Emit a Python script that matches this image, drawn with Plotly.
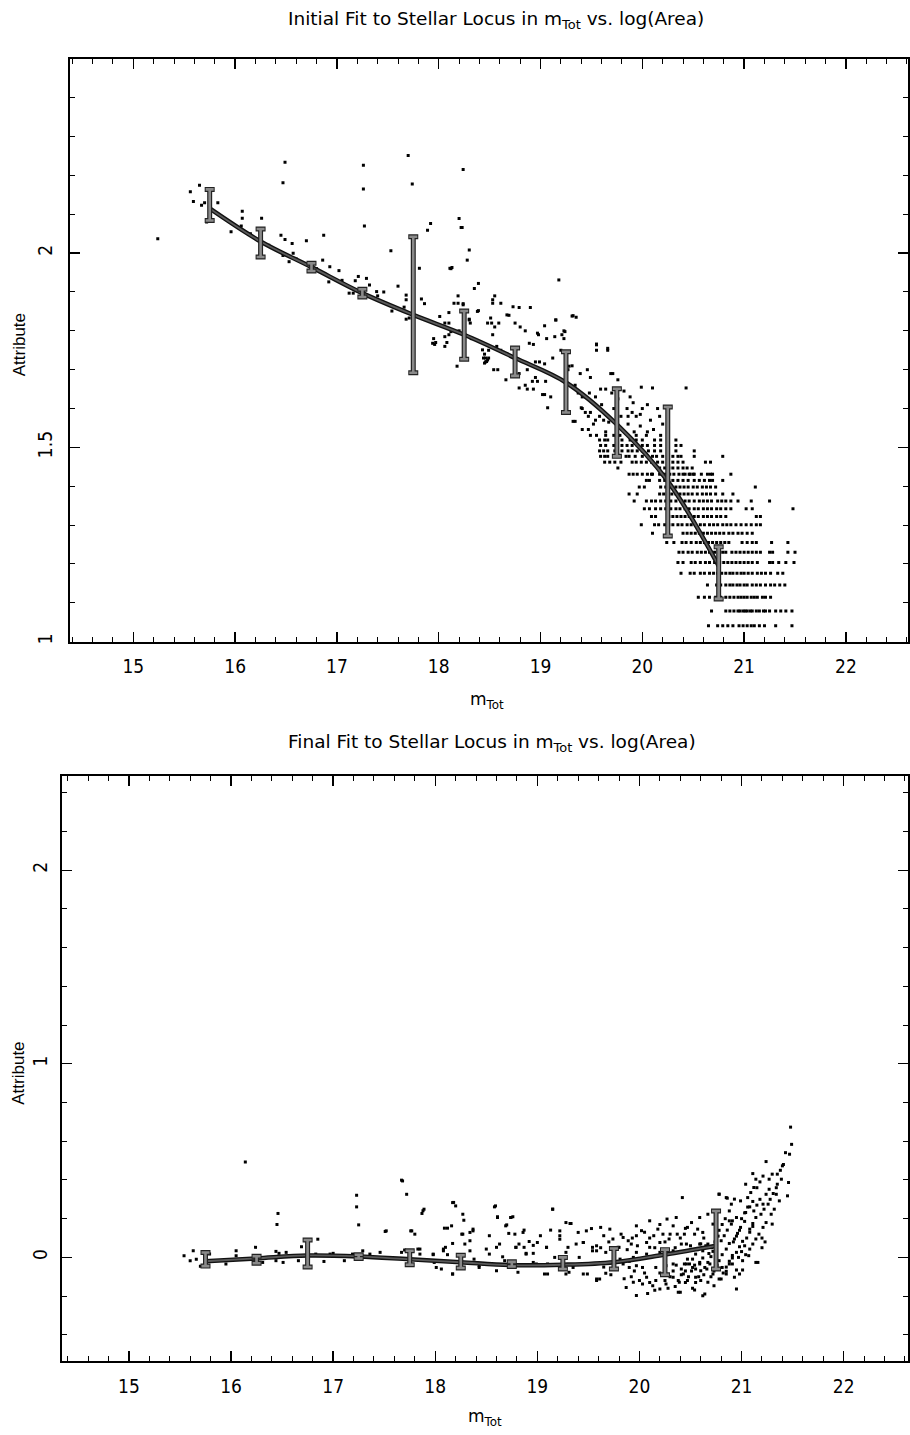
import plotly.graph_objects as go

W, H = 910, 1435
FONT = "Liberation Sans Narrow, DejaVu Sans Condensed, Liberation Sans, Arial, sans-serif"
TFONT = "DejaVu Sans, Liberation Sans, Arial, sans-serif"
LFONT = "Liberation Sans, Arial, sans-serif"

# ---------------- Top panel (initial fit) ----------------
BIN_X = [15.75, 16.25, 16.75, 17.25, 17.75, 18.25, 18.75, 19.25, 19.75, 20.25, 20.75]
TOP_BIN_Y = [2.124, 2.026, 1.964, 1.897, 1.867, 1.789, 1.720, 1.668, 1.564, 1.438, 1.177]
TOP_BIN_ERR = [0.040, 0.036, 0.010, 0.010, 0.175, 0.062, 0.036, 0.078, 0.087, 0.166, 0.067]
TOP_FIT_Y = [2.115, 2.030, 1.964, 1.897, 1.841, 1.790, 1.730, 1.667, 1.559, 1.413, 1.195]

# quantised rows of log(Area) at the faint end
TOP_ROW_Y = [1.041, 1.079, 1.114, 1.146, 1.176, 1.204, 1.230, 1.255, 1.279, 1.301, 1.322, 1.342,
             1.362, 1.380, 1.398, 1.415, 1.431, 1.447, 1.462, 1.477, 1.491, 1.505, 1.519, 1.531]
TOP_ROW_X = [
    [20.65, 20.74, 20.79, 20.84, 20.89, 20.95, 20.99, 21.03, 21.07, 21.10, 21.15, 21.20, 21.31, 21.47],
    [20.68, 20.82, 20.86, 20.90, 20.94, 20.96, 20.99, 21.01, 21.03, 21.06, 21.08, 21.12, 21.15, 21.19,
     21.21, 21.25, 21.31, 21.36, 21.41, 21.47],
    [20.55, 20.61, 20.66, 20.72, 20.77, 20.82, 20.86, 20.90, 20.94, 20.97, 21.00, 21.03, 21.07, 21.10,
     21.13, 21.18, 21.21, 21.26],
    [20.64, 20.73, 20.77, 20.82, 20.86, 20.89, 20.93, 20.96, 21.00, 21.03, 21.08, 21.12, 21.16, 21.21,
     21.26, 21.30, 21.35, 21.40],
    [20.38, 20.47, 20.51, 20.57, 20.61, 20.66, 20.70, 20.74, 20.78, 20.82, 20.86, 20.89, 20.93, 20.97,
     21.00, 21.04, 21.08, 21.13, 21.17, 21.21, 21.26, 21.33, 21.38],
    [20.35, 20.40, 20.48, 20.52, 20.57, 20.62, 20.66, 20.71, 20.76, 20.80, 20.84, 20.88, 20.92, 20.96,
     21.00, 21.04, 21.08, 21.13, 21.25, 21.28, 21.34, 21.41, 21.49],
    [20.36, 20.40, 20.45, 20.49, 20.54, 20.58, 20.62, 20.66, 20.71, 20.75, 20.79, 20.82, 20.88, 20.92,
     20.96, 21.00, 21.04, 21.08, 21.12, 21.16, 21.25, 21.28, 21.43, 21.50],
    [20.24, 20.31, 20.39, 20.43, 20.48, 20.53, 20.57, 20.61, 20.65, 20.69, 20.73, 20.77, 20.81, 20.85,
     20.98, 21.03, 21.08, 21.12, 21.27, 21.43],
    [20.10, 20.40, 20.44, 20.48, 20.52, 20.56, 20.60, 20.64, 20.68, 20.72, 20.76, 20.80, 20.85, 20.89,
     20.94, 20.98, 21.03, 21.08],
    [19.99, 20.12, 20.16, 20.22, 20.26, 20.30, 20.35, 20.39, 20.44, 20.48, 20.52, 20.57, 20.61, 20.66,
     20.70, 20.74, 20.79, 20.83, 20.87, 20.92, 20.97, 21.02, 21.07, 21.12, 21.16],
    [20.09, 20.13, 20.26, 20.30, 20.34, 20.38, 20.42, 20.46, 20.51, 20.55, 20.60, 20.64, 20.68, 20.73,
     20.77, 20.82, 21.12, 21.16],
    [20.02, 20.07, 20.13, 20.18, 20.23, 20.28, 20.33, 20.37, 20.42, 20.46, 20.51, 20.55, 20.60, 20.64,
     20.68, 20.73, 20.77, 20.82, 20.87, 21.02, 21.08, 21.48],
    [19.92, 20.04, 20.09, 20.13, 20.18, 20.23, 20.28, 20.33, 20.38, 20.42, 20.46, 20.51, 20.56, 20.60,
     20.64, 20.68, 20.74, 20.78, 20.82, 20.87, 20.94, 21.07, 21.25],
    [19.87, 19.95, 20.17, 20.21, 20.25, 20.29, 20.33, 20.37, 20.41, 20.45, 20.49, 20.54, 20.59, 20.63,
     20.67, 20.72, 20.79, 20.89],
    [19.97, 20.02, 20.18, 20.23, 20.28, 20.33, 20.37, 20.41, 20.45, 20.50, 20.54, 20.59, 20.63, 20.67,
     20.72, 21.11],
    [20.04, 20.07, 20.17, 20.22, 20.26, 20.30, 20.35, 20.40, 20.45, 20.51, 20.56, 20.61, 20.66, 20.69, 20.79],
    [19.87, 19.91, 19.95, 20.00, 20.05, 20.09, 20.10, 20.17, 20.22, 20.27, 20.31, 20.36, 20.40, 20.42,
     20.46, 20.47, 20.50, 20.51, 20.58, 20.64, 20.67, 20.69, 20.87],
    [19.76, 20.17, 20.22, 20.26, 20.30, 20.35, 20.40, 20.44, 20.49],
    [19.63, 19.68, 19.73, 19.79, 19.90, 19.94, 19.99, 20.04, 20.09, 20.15, 20.20, 20.25, 20.30, 20.35,
     20.40, 20.62, 20.67],
    [19.59, 19.63, 19.66, 19.72, 19.78, 19.84, 19.87, 19.93, 20.00, 20.05, 20.10, 20.14, 20.20, 20.25,
     20.30, 20.35, 20.38, 20.51, 20.79],
    [19.58, 19.62, 19.66, 19.73, 19.80, 19.86, 19.90, 19.95, 20.00, 20.06, 20.12, 20.18, 20.25, 20.33, 20.51],
    [19.59, 19.64, 19.72, 19.80, 19.85, 19.90, 19.95, 20.00, 20.05, 20.12, 20.18, 20.33, 20.38],
    [19.58, 19.63, 19.66, 19.80, 19.88, 19.94, 20.00, 20.12, 20.18, 20.33],
    [19.49, 19.55, 19.64, 19.72, 19.78, 19.94, 20.04, 20.18],
]

TOP_PTS_X = [
    15.24, 15.56, 15.65, 15.59, 15.67, 15.70, 15.83, 15.72, 15.96, 16.07, 16.07, 16.06, 16.26, 16.15, 16.33,
    16.45, 16.49, 16.56, 16.47, 16.53, 16.70, 16.57, 16.87, 16.86, 16.93, 17.02, 16.92, 16.60, 16.80, 17.05,
    17.12, 17.16, 17.18, 17.21, 17.29, 17.32, 17.39, 17.46, 17.40, 17.53, 17.60, 17.54, 17.68, 17.68, 17.66,
    17.71, 17.68, 17.81, 17.83, 17.86, 17.89, 17.92, 17.94, 17.96, 17.97, 18.01, 18.06, 18.06, 18.10, 18.10,
    18.11, 18.12, 18.13, 18.20, 18.22, 18.23, 18.30, 18.28, 18.19, 18.24, 18.25, 18.30, 18.31, 18.35, 18.39,
    18.38, 18.51, 18.52, 18.55, 18.53, 18.55, 18.18, 18.45, 18.44, 18.48, 18.45, 18.46, 17.95, 18.10, 18.08,
    18.06, 16.49, 16.47, 17.26, 17.26, 17.27, 17.70, 17.74, 18.24, 18.19,
    18.15, 18.24, 18.39, 18.53, 18.61, 18.73, 18.79, 18.90, 18.67, 18.69, 18.59, 18.48, 18.53, 18.30, 18.12,
    18.20, 18.32, 18.75, 18.80, 18.85, 18.97, 18.98, 19.04, 19.15, 19.24, 19.32, 19.35, 19.14, 18.89, 18.93,
    18.43, 18.49, 18.57, 18.61, 18.63, 18.47, 18.46, 18.49, 18.54, 18.58, 18.66, 18.79, 18.85, 18.92, 18.97,
    19.05, 18.87, 18.93, 18.95, 18.79, 18.87, 18.95, 18.99, 19.04, 19.12, 19.02, 19.04, 19.10, 19.07, 19.28,
    19.39, 19.46, 19.49, 19.31, 19.55, 19.55, 19.66, 19.69, 19.71, 19.76, 19.32, 19.34, 19.40, 19.41, 19.44,
    19.49, 19.34, 19.37, 19.41, 19.44, 19.48, 19.54, 19.59, 19.64, 19.70, 19.76, 19.82, 19.88, 19.91, 19.99,
    20.10, 20.43, 19.47, 19.54, 19.58, 19.62, 19.67, 19.75, 19.79, 19.86, 19.94, 19.98, 20.17, 19.41, 19.47,
    19.52, 19.64, 19.86, 19.92, 19.98, 20.05, 20.11, 19.18, 19.15, 19.31, 19.23, 19.21, 19.06, 19.23, 19.55,
    19.66, 20.00, 20.05, 20.15, 20.20, 20.25, 19.85, 19.90, 20.08, 19.20, 19.27, 19.60, 19.72,
]
TOP_PTS_Y = [
    2.037, 2.158, 2.175, 2.133, 2.123, 2.130, 2.130, 2.080, 2.055, 2.108, 2.090, 2.070, 2.090, 2.050, 2.020,
    2.046, 2.035, 2.025, 1.994, 1.978, 2.032, 2.000, 2.046, 1.982, 1.965, 1.955, 1.926, 1.985, 1.960, 1.930,
    1.897, 1.897, 1.929, 1.940, 1.935, 1.918, 1.901, 1.900, 1.890, 2.006, 1.915, 1.851, 1.892, 1.880, 1.861,
    1.833, 1.830, 1.961, 1.882, 1.870, 2.059, 2.076, 1.768, 1.765, 1.770, 1.837, 1.785, 1.820, 1.847, 1.820,
    1.961, 1.960, 1.963, 2.089, 2.066, 2.066, 2.008, 1.982, 1.871, 1.870, 1.830, 1.830, 1.820, 1.909, 1.922,
    1.850, 1.833, 1.820, 1.810, 1.880, 1.890, 1.709, 1.717, 1.730, 1.725, 1.740, 1.730, 1.780, 1.790, 1.770,
    1.760, 2.234, 2.181, 2.226, 2.165, 2.070, 2.251, 2.178, 2.215, 1.890,
    1.871, 1.867, 1.852, 1.871, 1.871, 1.862, 1.860, 1.860, 1.841, 1.840, 1.820, 1.820, 1.790, 1.828, 1.798,
    1.800, 1.780, 1.820, 1.810, 1.800, 1.794, 1.790, 1.813, 1.828, 1.798, 1.839, 1.835, 1.785, 1.768, 1.765,
    1.751, 1.750, 1.760, 1.750, 1.745, 1.721, 1.720, 1.730, 1.700, 1.700, 1.674, 1.653, 1.660, 1.670, 1.670,
    1.670, 1.650, 1.650, 1.680, 1.690, 1.700, 1.720, 1.720, 1.715, 1.730, 1.636, 1.636, 1.630, 1.602, 1.709,
    1.690, 1.700, 1.680, 1.710, 1.764, 1.750, 1.750, 1.690, 1.690, 1.674, 1.567, 1.567, 1.602, 1.600, 1.590,
    1.590, 1.660, 1.640, 1.630, 1.630, 1.640, 1.630, 1.650, 1.650, 1.640, 1.625, 1.645, 1.630, 1.615, 1.655,
    1.653, 1.653, 1.580, 1.570, 1.580, 1.570, 1.565, 1.580, 1.580, 1.580, 1.580, 1.585, 1.580, 1.546, 1.546,
    1.560, 1.540, 1.560, 1.540, 1.555, 1.540, 1.546, 1.931, 1.828, 1.838, 1.800, 1.790, 1.780, 1.780, 1.766,
    1.755, 1.600, 1.610, 1.600, 1.560, 1.570, 1.600, 1.590, 1.570, 1.750, 1.700, 1.610, 1.600,
]

# ---------------- Bottom panel (final fit) ----------------
BOT_BIN_Y = [-0.010, -0.012, 0.020, 0.004, -0.002, -0.022, -0.035, -0.030, -0.007, -0.025, 0.090]
BOT_BIN_ERR = [0.035, 0.018, 0.070, 0.010, 0.036, 0.033, 0.012, 0.030, 0.053, 0.065, 0.150]
BOT_FIT_Y = [-0.020, -0.005, 0.010, 0.005, -0.010, -0.025, -0.040, -0.038, -0.025, 0.015, 0.060]

BOT_PTS_X = [
    16.14, 15.54, 15.63, 15.60, 15.66, 15.70, 15.79, 15.95, 16.05, 16.05, 16.24, 16.24, 16.31, 16.44, 16.46,
    16.45, 16.47, 16.51, 16.44, 16.54, 16.66, 16.69, 16.85, 16.83, 16.91, 16.97, 17.00, 17.11, 17.19, 17.23,
    17.23, 17.25, 17.16, 17.29, 17.36, 17.46, 17.51, 17.49, 17.68, 17.72, 17.67, 17.70, 17.76, 17.80, 17.83,
    17.85, 17.89, 17.87, 17.98, 17.99, 18.01, 18.06, 18.08, 18.10, 18.09, 18.12, 18.16, 18.17, 18.17, 18.20,
    18.17, 18.27, 18.28, 18.26, 18.34, 18.37, 18.29, 18.34, 18.38, 18.43, 18.47, 18.50, 18.53, 18.59, 18.61,
    18.60, 18.68, 18.70, 18.74, 18.76, 18.72, 18.78, 18.79, 18.82, 18.87, 18.89, 18.92, 18.96, 19.00, 19.03,
    19.09, 19.15, 19.13, 19.22, 19.22, 19.17, 19.28, 19.33, 19.30, 19.38, 19.45, 19.53, 19.54, 19.58, 19.45,
    19.28, 19.10, 18.81, 18.60, 18.73, 19.58, 18.87, 18.66, 18.96, 19.10, 19.31,
    17.52, 17.67, 17.88, 17.77, 17.85, 17.98, 18.08, 18.12, 18.18, 18.17, 18.27, 18.34, 18.37, 18.43, 18.53,
    18.58, 18.61, 18.63, 18.69, 18.74, 18.79, 18.86, 18.89, 18.96, 18.99, 19.07, 19.09, 19.15, 19.22, 19.28,
    19.32, 19.35, 19.41, 19.45, 19.49, 19.54, 19.58, 19.40, 19.48,
    19.62, 19.65, 19.71, 19.74, 19.79, 19.81, 19.84, 19.89, 19.92, 19.97, 19.97, 19.97, 20.02, 20.07, 20.10,
    20.10, 20.14, 20.18, 20.20, 20.23, 20.27, 20.29, 20.33, 20.36, 20.37, 20.41, 20.42, 20.44, 20.47, 20.51,
    20.54, 20.57, 20.59, 20.62, 20.67, 20.72, 20.78, 20.86, 20.88, 20.91, 20.95,
    19.87, 19.97, 19.94, 20.03, 20.07, 20.08, 20.13, 20.16, 20.20, 20.23, 20.26, 20.33, 20.38, 20.39, 20.43,
    20.47, 20.54, 20.55, 20.60, 20.64, 20.67, 20.72, 20.75, 20.78, 20.85, 20.91, 19.74, 19.61, 19.67, 19.84,
    19.90, 19.97, 20.03, 20.16, 20.26, 20.33, 20.46, 20.52, 20.59, 20.69, 19.58, 19.67, 19.80, 19.94, 20.07,
    20.20, 20.33, 20.46, 20.59, 20.67,
    20.41, 20.44, 20.47, 20.49, 20.52, 20.55, 20.55, 20.59, 20.62, 20.62, 20.65, 20.64, 20.67, 20.70, 20.72,
    20.75, 20.78, 20.81, 20.85, 20.88, 20.81, 20.80, 20.83, 20.86, 20.90, 20.88, 20.91, 20.95, 20.98, 21.01,
    20.93, 20.96, 20.99, 21.03, 20.95, 20.98, 21.01, 21.04, 21.08, 21.11, 21.08, 21.11, 21.14, 21.04, 21.08,
    21.11, 21.06, 21.09, 21.12, 21.14, 21.17, 21.16, 21.19, 21.22, 21.26, 21.21, 21.24, 21.24, 21.27, 21.29,
    21.32, 21.27, 21.30, 21.35, 21.39, 21.40, 21.46, 21.45, 21.43, 21.47, 21.49, 21.48, 21.24, 21.11, 20.90,
    20.93, 20.78, 20.85, 20.88, 20.99, 21.21, 21.04, 21.14, 21.35, 21.37, 21.30, 21.34, 20.95, 21.14, 21.07,
    20.62, 20.73, 20.80, 20.85, 20.93, 21.01,
    20.30, 20.33, 20.36, 20.35, 20.38, 20.41, 20.45, 20.48, 20.51, 20.54, 20.52, 20.55, 20.58, 20.60, 20.63,
    20.66, 20.57, 20.60, 20.63, 20.68, 20.71, 20.74, 20.77, 20.70, 20.73, 20.76, 20.82, 20.85, 20.88, 20.91,
    20.78, 20.81, 20.84, 20.92, 20.95, 20.98, 20.97, 21.00, 21.03, 21.00, 21.03, 21.06, 21.05, 21.08, 21.11,
    21.12, 21.15, 21.18, 21.15, 21.18, 21.21, 21.20, 21.23, 21.28, 21.31, 21.34, 21.38, 21.41, 21.20,
    20.40, 20.45, 20.50, 20.35, 20.30, 20.25, 20.20, 20.15, 20.10,
    20.25, 20.20, 20.15, 20.10, 20.05, 20.00, 19.95, 19.92, 20.28, 20.40, 20.45,
    19.62, 19.70, 19.75, 19.82, 19.88, 19.93, 19.98, 20.05, 19.65, 19.72, 19.78, 19.85, 19.90,
]
BOT_PTS_Y = [
    0.493, 0.009, 0.034, -0.017, -0.009, -0.046, 0.017, -0.034, 0.034, 0.009, 0.052, -0.005, -0.026, 0.031, 0.227,
    0.170, 0.021, -0.026, -0.017, 0.026, -0.017, 0.055, 0.094, 0.017, -0.021, 0.017, 0.021, -0.017, 0.017, 0.321,
    0.261, 0.168, 0.009, 0.034, 0.017, 0.026, 0.134, -0.003, 0.395, 0.326, 0.026, 0.038, 0.137, 0.120, 0.043,
    0.017, 0.249, 0.227, 0.014, -0.026, -0.052, -0.060, 0.034, 0.052, 0.151, 0.151, 0.163, 0.072, 0.283, 0.266,
    -0.086, 0.223, 0.192, 0.120, 0.129, 0.146, 0.069, 0.034, -0.009, -0.043, -0.034, 0.043, 0.017, 0.266, 0.210,
    0.052, -0.017, 0.168, 0.206, 0.210, 0.124, 0.120, 0.052, 0.069, 0.141, 0.021, 0.082, 0.021, 0.077, 0.112,
    0.052, 0.249, 0.141, 0.137, 0.094, 0.000, 0.180, 0.175, 0.052, 0.069, 0.077, 0.149, 0.052, 0.060, -0.086,
    -0.086, -0.086, -0.077, -0.069, -0.052, -0.112, 0.052, 0.003, -0.026, -0.034, -0.077,
    0.137, 0.399, 0.241, 0.137, 0.043, 0.017, 0.043, 0.014, 0.284, -0.086, 0.120, 0.086, 0.137, -0.052, 0.112,
    0.261, 0.206, 0.069, 0.163, 0.206, 0.052, 0.129, 0.017, 0.062, -0.034, -0.086, 0.052, 0.249, 0.112, 0.026,
    0.175, -0.052, 0.000, 0.077, -0.086, 0.034, -0.120, 0.129, 0.137,
    0.155, 0.112, 0.146, 0.095, 0.052, -0.009, 0.103, 0.086, 0.069, 0.163, 0.112, 0.026, 0.138, 0.077, 0.189,
    0.052, 0.112, 0.146, 0.077, 0.120, 0.198, 0.095, 0.163, 0.206, 0.120, 0.069, 0.309, 0.120, 0.155, 0.180,
    0.120, 0.146, 0.206, 0.129, 0.223, 0.172, 0.327, 0.306, 0.240, 0.189, 0.206,
    -0.155, -0.197, -0.129, -0.137, -0.103, -0.186, -0.146, -0.120, -0.163, -0.086, -0.137, -0.103, -0.180, -0.129, -0.086,
    -0.120, -0.168, -0.103, -0.069, -0.189, -0.129, -0.086, -0.052, -0.112, -0.086, -0.034, -0.060, -0.112, -0.082, -0.034,
    -0.052, -0.043, -0.052, -0.052, -0.043, -0.034, -0.034, -0.052, -0.026, -0.034, 0.034, 0.026, 0.052, 0.000, 0.017,
    0.026, 0.034, 0.069, 0.069, 0.069,
    -0.060, -0.034, -0.009, -0.034, -0.009, 0.017, -0.060, -0.034, -0.003, 0.034, 0.060, -0.052, -0.026, 0.004, 0.031,
    0.060, -0.017, 0.014, 0.043, 0.072, -0.052, 0.086, 0.112, 0.141, 0.172, -0.034, -0.003, 0.026, 0.055, 0.083,
    0.095, 0.124, 0.155, 0.186, -0.065, -0.086, -0.017, 0.014, 0.043, 0.069, 0.146, 0.175, 0.206, 0.232, 0.261,
    0.289, 0.309, 0.335, 0.361, 0.095, 0.120, -0.026, 0.223, 0.249, 0.275, 0.155, 0.180, 0.326, 0.352, 0.223,
    0.249, 0.404, 0.430, 0.430, 0.404, 0.473, 0.387, 0.318, 0.541, 0.533, 0.584, 0.673, 0.495, 0.433, 0.275,
    0.301, 0.326, 0.309, 0.189, 0.292, 0.275, 0.378, 0.404, 0.378, 0.292, 0.172, 0.326, -0.163, -0.026, 0.009,
    -0.198, -0.146, -0.112, -0.072, -0.103, -0.065,
    -0.100, -0.070, -0.040, -0.150, -0.120, -0.090, -0.130, -0.100, -0.070, -0.040, -0.160, -0.130, -0.100, -0.120, -0.090,
    -0.060, 0.040, 0.070, 0.100, 0.020, 0.050, 0.080, 0.110, -0.100, -0.070, -0.040, -0.080, -0.050, -0.020, 0.010,
    0.140, 0.170, 0.200, 0.080, 0.110, 0.140, 0.000, 0.030, 0.060, 0.200, 0.230, 0.260, 0.100, 0.130, 0.160,
    0.240, 0.270, 0.300, 0.360, 0.390, 0.420, 0.050, 0.080, 0.300, 0.330, 0.360, 0.450, 0.480, 0.100,
    0.100, 0.150, 0.060, 0.050, 0.120, 0.080, 0.170, 0.050, 0.100,
    -0.120, -0.080, -0.170, -0.130, -0.080, -0.120, -0.070, -0.100, -0.160, -0.180, -0.070,
    0.050, 0.080, 0.020, 0.120, 0.040, 0.100, 0.060, 0.130, -0.050, -0.090, -0.060, -0.110, -0.020,
]

X_TICKS = [15, 16, 17, 18, 19, 20, 21, 22]
TOP_Y_TICKS = [1, 1.5, 2]
BOT_Y_TICKS = [0, 1, 2]

# flatten rows
top_x = list(TOP_PTS_X)
top_y = list(TOP_PTS_Y)
for ry, rxs in zip(TOP_ROW_Y, TOP_ROW_X):
    top_x.extend(rxs)
    top_y.extend([ry] * len(rxs))

fig = go.Figure()

def add_panel(xa, ya, px, py, fit_y, bin_y, bin_err):
    fig.add_trace(go.Scatter(x=px, y=py, mode="markers", xaxis=xa, yaxis=ya,
                             marker=dict(symbol="square", size=3, color="black", line=dict(width=0)),
                             showlegend=False, hoverinfo="skip"))
    fig.add_trace(go.Scatter(x=BIN_X, y=fit_y, mode="lines", xaxis=xa, yaxis=ya,
                             line=dict(color="#111111", width=4.5, shape="spline"),
                             showlegend=False, hoverinfo="skip"))
    fig.add_trace(go.Scatter(x=BIN_X, y=fit_y, mode="lines", xaxis=xa, yaxis=ya,
                             line=dict(color="#5a5a5a", width=1.8, shape="spline"),
                             showlegend=False, hoverinfo="skip"))
    fig.add_trace(go.Scatter(x=BIN_X, y=bin_y, mode="markers", xaxis=xa, yaxis=ya,
                             marker=dict(size=1, color="rgba(0,0,0,0)"),
                             error_y=dict(type="data", array=bin_err, visible=True,
                                          color="#222222", thickness=5, width=5),
                             showlegend=False, hoverinfo="skip"))
    fig.add_trace(go.Scatter(x=BIN_X, y=bin_y, mode="markers", xaxis=xa, yaxis=ya,
                             marker=dict(size=1, color="rgba(0,0,0,0)"),
                             error_y=dict(type="data", array=bin_err, visible=True,
                                          color="#8a8a8a", thickness=2.6, width=4),
                             showlegend=False, hoverinfo="skip"))

add_panel("x", "y", top_x, top_y, TOP_FIT_Y, TOP_BIN_Y, TOP_BIN_ERR)
add_panel("x2", "y2", BOT_PTS_X, BOT_PTS_Y, BOT_FIT_Y, BOT_BIN_Y, BOT_BIN_ERR)

common = dict(showline=True, linecolor="black", linewidth=2, mirror="ticks",
              ticks="inside", ticklen=10, tickwidth=1.3, tickcolor="black",
              showgrid=False, zeroline=False,
              tickfont=dict(family=FONT, size=19, color="black"))

def xaxis(domain, rng, anchor):
    return dict(domain=domain, range=rng, anchor=anchor, tickmode="array", tickvals=X_TICKS,
                minor=dict(tickmode="linear", tick0=0, dtick=0.2, ticks="inside", ticklen=5,
                           tickcolor="black", tickwidth=1),
                ticklabelstandoff=7, **common)

def yaxis(domain, rng, anchor, vals, mdt, standoff):
    return dict(domain=domain, range=rng, anchor=anchor, tickmode="array", tickvals=vals,
                ticktext=[("%g" % v) for v in vals], tickangle=-90,
                minor=dict(tickmode="linear", tick0=0, dtick=mdt, ticks="inside", ticklen=5,
                           tickcolor="black", tickwidth=1),
                ticklabelstandoff=standoff, **common)

fig.update_layout(
    width=W, height=H, margin=dict(l=0, r=0, t=0, b=0),
    paper_bgcolor="white", plot_bgcolor="white", showlegend=False,
    xaxis=xaxis([70 / W, 909 / W], [14.377, 22.61], "y"),
    yaxis=yaxis([1 - 643 / H, 1 - 59 / H], [1, 2.5], "x", TOP_Y_TICKS, 0.1, 8),
    xaxis2=xaxis([62 / W, 909 / W], [14.344, 22.63], "y2"),
    yaxis2=yaxis([1 - 1364 / H, 1 - 778 / H], [-0.536, 2.485], "x2", BOT_Y_TICKS, 0.2, 5),
)

def ann(text, x, y, size, angle=0, family=TFONT):
    fig.add_annotation(text=text, xref="paper", yref="paper", x=x / W, y=1 - y / H,
                       xanchor="center", yanchor="middle", showarrow=False, textangle=angle,
                       font=dict(family=family, size=size, color="black"))

ann("Initial Fit to Stellar Locus in m<sub>Tot</sub> vs. log(Area)", 497, 20, 18.5)
ann("Final Fit to Stellar Locus in m<sub>Tot</sub> vs. log(Area)", 493, 745, 18.5)
ann("m<sub>Tot</sub>", 488, 702, 17)
ann("m<sub>Tot</sub>", 486, 1420, 17)
ann("Attribute", 19, 345, 17, angle=-90, family=LFONT)
ann("Attribute", 19, 1075, 17, angle=-90, family=LFONT)

fig.write_html(
    "out.html",
    config={"displayModeBar": False, "staticPlot": True},
    post_script="document.body.style.margin='0px';document.body.style.overflow='hidden';"
                "document.documentElement.style.overflow='hidden';",
)
